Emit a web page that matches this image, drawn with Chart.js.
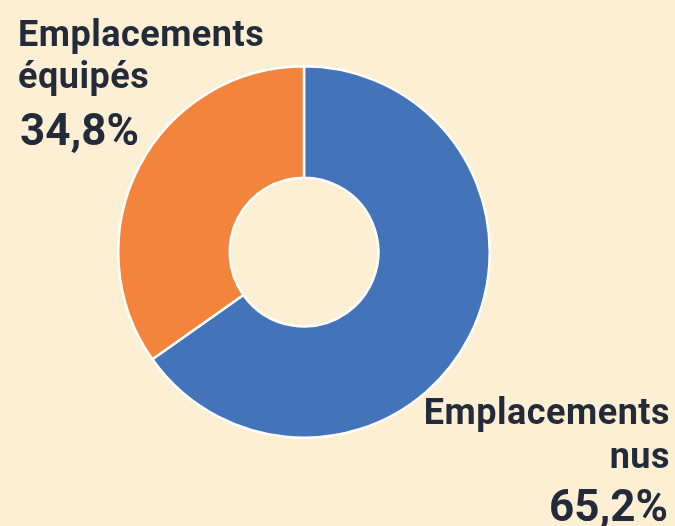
<!DOCTYPE html>
<html>
<head>
<meta charset="utf-8">
<script src="https://cdn.jsdelivr.net/npm/chart.js@4"></script>
<style>
  html, body { margin: 0; padding: 0; background: #fcefd3; }
  #wrap { position: relative; width: 675px; height: 526px; overflow: hidden; }
  #chart { position: absolute; left: 0; top: 0; }
  .lbl { position: absolute; font-family: Roboto, sans-serif; font-weight: 700; color: #232b3b; white-space: nowrap; }
  .name { font-size: 36px; letter-spacing: 0.5px; }
  .pct { font-size: 44px; line-height: 50px; }
</style>
</head>
<body>
<div id="wrap">
  <canvas id="chart" width="675" height="526"></canvas>
</div>
<script>
const labels = ["Emplacements nus", "Emplacements équipés"];
const nameLines = [["Emplacements", "nus"], ["Emplacements", "équipés"]];
const values = [65.2, 34.8];
const colors = ["#4373b9", "#f3843c"];

const wrap = document.getElementById("wrap");

// text labels, one block per slice
const boxes = [
  { right: 5, pctRight: 7, top: 390, lineH: 44, gap: 3, align: "right" },
  { left: 18, pctLeft: 20, top: 13, lineH: 42, gap: 8, align: "left" }
];
values.forEach((v, i) => {
  const b = boxes[i];
  let d = document.createElement("div");
  d.className = "lbl";
  d.style.textAlign = b.align;
  d.style.top = b.top + "px";
  if (b.align === "left") d.style.left = b.left + "px";
  else d.style.right = b.right + "px";
  let html = nameLines[i].map(l => '<div class="name" style="line-height:' + b.lineH + 'px">' + l + '</div>').join("");
  let shift = b.align === "left" ? "margin-left:" + (b.pctLeft - b.left) + "px" : "margin-right:" + (b.pctRight - b.right) + "px";
  html += '<div class="pct" style="margin-top:' + b.gap + 'px;' + shift + '">' + v.toFixed(1).replace(".", ",") + '%</div>';
  d.innerHTML = html;
  wrap.appendChild(d);
});

const ctx = document.getElementById("chart").getContext("2d");
new Chart(ctx, {
  type: "doughnut",
  data: {
    labels: labels,
    datasets: [{
      data: values,
      backgroundColor: colors,
      borderColor: "#ffffff",
      borderWidth: 2.5
    }]
  },
  options: {
    responsive: false,
    animation: false,
    cutout: "40%",
    layout: { padding: { left: 117, right: 184, top: 65, bottom: 87 } },
    plugins: {
      legend: { display: false },
      tooltip: { enabled: false }
    }
  }
});
</script>
</body>
</html>
